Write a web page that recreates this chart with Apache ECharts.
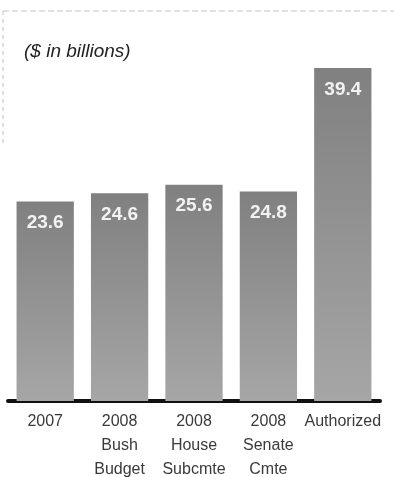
<!DOCTYPE html>
<html>
<head>
<meta charset="utf-8">
<script src="https://cdn.jsdelivr.net/npm/echarts@6/dist/echarts.min.js"></script>
<style>
  html, body { margin: 0; padding: 0; background: #fff; }
  #chart { width: 394px; height: 477px; }
</style>
</head>
<body>
<div id="chart"></div>
<script>
// Funding levels, $ in billions
const categories = ['2007', '2008\nBush\nBudget', '2008\nHouse\nSubcmte', '2008\nSenate\nCmte', 'Authorized'];
const values = [23.6, 24.6, 25.6, 24.8, 39.4];
const unitNote = '($ in billions)';

const chart = echarts.init(document.getElementById('chart'), null, { renderer: 'canvas' });

chart.setOption({
  backgroundColor: '#ffffff',
  animation: false,
  title: {
    text: unitNote,
    left: 19,
    top: 37,
    textStyle: {
      fontFamily: 'Liberation Sans, Arial, sans-serif',
      fontStyle: 'italic',
      fontWeight: 'normal',
      fontSize: 19,
      color: '#222'
    }
  },
  grid: { left: 8, right: 14, top: 63, bottom: 76, containLabel: false, outerBoundsMode: 'none' },
  xAxis: {
    type: 'category',
    data: categories,
    axisLine: { show: true, lineStyle: { color: '#111', width: 4 } },
    axisTick: { show: false },
    axisLabel: {
      margin: 9,
      interval: 0,
      fontFamily: 'Liberation Sans, Arial, sans-serif',
      fontSize: 16,
      lineHeight: 24,
      color: '#3a3a3a'
    }
  },
  yAxis: {
    type: 'value',
    min: 0,
    max: 40,
    show: false,
    splitLine: { show: false }
  },
  series: [{
    type: 'bar',
    data: values,
    barCategoryGap: '23%',
    itemStyle: {
      color: new echarts.graphic.LinearGradient(0, 0, 0, 1, [
        { offset: 0, color: '#808080' },
        { offset: 1, color: '#a6a6a6' }
      ])
    },
    label: {
      show: true,
      position: 'insideTop',
      distance: 12,
      fontFamily: 'Liberation Sans, Arial, sans-serif',
      fontWeight: 'bold',
      fontSize: 19,
      color: '#f2f2f2',
      formatter: p => p.value.toFixed(1)
    }
  }],
  graphic: [
    {
      type: 'line',
      shape: { x1: 3, y1: 11, x2: 394, y2: 11 },
      style: { stroke: '#c4c4c4', lineWidth: 1, lineDash: [6, 3] },
      silent: true
    },
    {
      type: 'line',
      shape: { x1: 3, y1: 11, x2: 3, y2: 145 },
      style: { stroke: '#c4c4c4', lineWidth: 1, lineDash: [4, 4] },
      silent: true
    }
  ]
});
</script>
</body>
</html>
